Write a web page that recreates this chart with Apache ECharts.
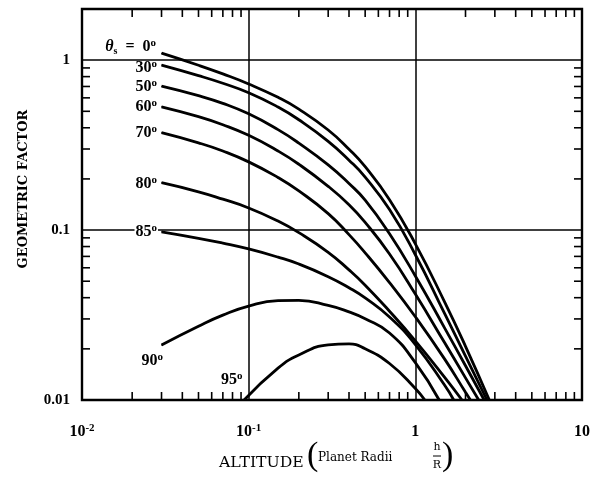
<!DOCTYPE html>
<html><head><meta charset="utf-8">
<script src="https://cdn.jsdelivr.net/npm/echarts@6/dist/echarts.min.js"></script>
<style>html,body{margin:0;padding:0;background:#fff}#c{width:602px;height:480px}</style>
</head><body><div id="c"></div>
<script>
// ---- axis ticks ----
const xTickValues = [0.01, 0.1, 1, 10];
const xTickBase = ['10', '10', '1', '10'];
const xTickExp = ['-2', '-1', '', ''];
const yTickValues = [0.01, 0.1, 1];
const yTickLabels = ['0.01', '0.1', '1'];
const minorMultipliers = [2, 3, 4, 5, 6, 7, 8, 9];
const xDecades = [0.01, 0.1, 1];
const yDecades = [0.01, 0.1, 1];
const xMin = 0.01, xMax = 10, yMin = 0.01, yMax = 2;

// ---- curves: geometric factor vs altitude (h/R) for each zenith angle ----
const curveLabels = ['0', '30', '50', '60', '70', '80', '85', '90', '95'];
const theta0  = [[0.03,1.099],[0.05,0.933],[0.07,0.830],[0.1,0.724],[0.15,0.604],[0.2,0.515],[0.3,0.388],[0.4,0.299],[0.5,0.236],[0.7,0.151],[1.0,0.083],[1.5,0.0377],[2.0,0.0207],[2.78,0.01]];
const theta30 = [[0.03,0.935],[0.05,0.811],[0.07,0.731],[0.1,0.643],[0.15,0.530],[0.2,0.446],[0.3,0.333],[0.4,0.258],[0.5,0.205],[0.7,0.132],[1.0,0.0716],[1.5,0.0322],[2.0,0.0181],[2.69,0.01]];
const theta50 = [[0.03,0.703],[0.05,0.618],[0.07,0.557],[0.1,0.483],[0.15,0.390],[0.2,0.325],[0.3,0.242],[0.4,0.188],[0.5,0.150],[0.7,0.0951],[1.0,0.0537],[1.5,0.0265],[2.0,0.0159],[2.59,0.01]];
const theta60 = [[0.03,0.531],[0.05,0.465],[0.07,0.417],[0.1,0.361],[0.15,0.292],[0.2,0.244],[0.3,0.181],[0.4,0.141],[0.5,0.111],[0.7,0.0723],[1.0,0.0420],[1.5,0.0217],[2.0,0.0135],[2.40,0.01]];
const theta70 = [[0.03,0.374],[0.05,0.326],[0.07,0.292],[0.1,0.252],[0.15,0.204],[0.2,0.170],[0.3,0.125],[0.4,0.0940],[0.5,0.0735],[0.7,0.0491],[1.0,0.0309],[1.5,0.0174],[2.0,0.0111],[2.14,0.01]];
const theta80 = [[0.03,0.190],[0.05,0.168],[0.07,0.152],[0.1,0.135],[0.15,0.113],[0.2,0.0966],[0.3,0.0740],[0.4,0.0583],[0.5,0.0474],[0.7,0.0333],[1.0,0.0223],[1.5,0.0136],[1.905,0.01]];
const theta85 = [[0.03,0.0977],[0.05,0.0895],[0.07,0.0838],[0.1,0.0774],[0.15,0.0693],[0.2,0.0631],[0.3,0.0532],[0.4,0.0458],[0.5,0.0399],[0.7,0.0308],[1.0,0.0212],[1.5,0.0122],[1.70,0.01]];
const theta90 = [[0.03,0.0211],[0.05,0.0272],[0.07,0.0316],[0.1,0.0357],[0.15,0.0384],[0.2,0.0386],[0.3,0.0360],[0.4,0.0330],[0.5,0.0301],[0.7,0.0248],[1.0,0.0166],[1.39,0.01]];
const theta95 = [[0.0939,0.01],[0.15,0.0154],[0.2,0.0184],[0.3,0.0211],[0.4,0.0214],[0.5,0.0200],[0.7,0.0164],[1.0,0.0117],[1.14,0.01]];

const curves = [theta0, theta30, theta50, theta60, theta70, theta80, theta85, theta90, theta95];
const labelOffsets = [[-1,-6],[0,3],[0,1],[0,0],[0,0],[0,1],[0,0],[6,16],[3,-20]];

const SERIF = '"Liberation Serif", "DejaVu Serif", serif';
const WIDE = '"DejaVu Serif", "Liberation Serif", serif';
const richLabel = {
  n: {fontFamily: SERIF, fontWeight: 'bold', fontSize: 16, color: '#000', lineHeight: 19},
  i: {fontFamily: SERIF, fontStyle: 'italic', fontWeight: 'bold', fontSize: 16, color: '#000', lineHeight: 19},
  sub: {fontFamily: SERIF, fontWeight: 'bold', fontSize: 10, color: '#000', verticalAlign: 'bottom', lineHeight: 12},
  sup: {fontFamily: SERIF, fontWeight: 'bold', fontSize: 11, color: '#000', verticalAlign: 'top', lineHeight: 11}
};

const lineSeries = curves.map((d, i) => ({
  type: 'line',
  name: curveLabels[i],
  smooth: 0.5,
  symbol: 'none',
  animation: false,
  silent: true,
  z: 3,
  lineStyle: {color: '#000', width: 2.8},
  data: d.map((p, j) => j === 0 ? {
    value: p,
    symbol: 'circle', symbolSize: 1,
    itemStyle: {color: '#000'},
    label: {
      show: true, position: 'left', distance: 3, offset: labelOffsets[i],
      backgroundColor: i === 6 ? '#fff' : 'transparent',
      padding: [0, 1, 0, 1],
      formatter: i === 0 ? '{i|θ}{sub|s}{n|  =  ' + curveLabels[i] + '}{sup|o}' : '{n|' + curveLabels[i] + '}{sup|o}',
      rich: richLabel
    }
  } : p)
}));

const xMinor = [];
xDecades.forEach(d => minorMultipliers.forEach(m => { const v = m * d; if (v < xMax) xMinor.push(v); }));
const yMinor = [];
yDecades.forEach(d => minorMultipliers.forEach(m => { const v = m * d; if (v < yMax) yMinor.push(v); }));
const TICK = 8;

const xTickSeries = {
  type: 'custom', coordinateSystem: 'cartesian2d', silent: true, animation: false, z: 4,
  data: xMinor.map(v => [v, yMin]),
  renderItem: (params, api) => {
    const x = api.value(0);
    const b = api.coord([x, yMin]);
    const t = api.coord([x, yMax]);
    const st = {stroke: '#000', lineWidth: 1.6};
    return {type: 'group', children: [
      {type: 'line', shape: {x1: b[0], y1: b[1], x2: b[0], y2: b[1] - TICK}, style: st},
      {type: 'line', shape: {x1: t[0], y1: t[1], x2: t[0], y2: t[1] + TICK}, style: st}
    ]};
  }
};
const yTickSeries = {
  type: 'custom', coordinateSystem: 'cartesian2d', silent: true, animation: false, z: 4,
  data: yMinor.map(v => [xMin, v]),
  renderItem: (params, api) => {
    const y = api.value(1);
    const l = api.coord([xMin, y]);
    const r = api.coord([xMax, y]);
    const st = {stroke: '#000', lineWidth: 1.6};
    return {type: 'group', children: [
      {type: 'line', shape: {x1: l[0], y1: l[1], x2: l[0] + TICK, y2: l[1]}, style: st},
      {type: 'line', shape: {x1: r[0], y1: r[1], x2: r[0] - TICK, y2: r[1]}, style: st}
    ]};
  }
};

function findTick(list, v) {
  return list.findIndex(t => Math.abs(Math.log10(t) - Math.log10(v)) < 1e-6);
}

const chart = echarts.init(document.getElementById('c'), null, {renderer: 'canvas'});
chart.setOption({
  animation: false,
  backgroundColor: '#fff',
  grid: {left: 82, right: 20, top: 9, bottom: 80, show: true, borderColor: '#000', borderWidth: 2.4, backgroundColor: 'transparent'},
  xAxis: {
    type: 'log', logBase: 10, min: xMin, max: xMax,
    axisLine: {show: false}, axisTick: {show: false}, minorTick: {show: false},
    splitLine: {show: true, lineStyle: {color: '#000', width: 1.5}},
    axisLabel: {
      margin: 23, showMinLabel: true, showMaxLabel: true,
      formatter: v => {
        const k = findTick(xTickValues, v);
        if (k < 0) return '';
        return xTickExp[k] ? '{b|' + xTickBase[k] + '}{s|' + xTickExp[k] + '}' : '{b|' + xTickBase[k] + '}';
      },
      rich: {
        b: {fontFamily: SERIF, fontWeight: 'bold', fontSize: 16, color: '#000', lineHeight: 18},
        s: {fontFamily: SERIF, fontWeight: 'bold', fontSize: 11, color: '#000', verticalAlign: 'top', lineHeight: 11}
      }
    }
  },
  yAxis: {
    type: 'log', logBase: 10, min: yMin, max: yMax,
    axisLine: {show: false}, axisTick: {show: false}, minorTick: {show: false},
    splitLine: {show: true, lineStyle: {color: '#000', width: 1.5}},
    axisLabel: {
      margin: 12, showMinLabel: true, showMaxLabel: false,
      fontFamily: SERIF, fontWeight: 'bold', fontSize: 15, color: '#000',
      formatter: v => { const k = findTick(yTickValues, v); return k < 0 ? '' : yTickLabels[k]; }
    }
  },
  graphic: [
    {type: 'text', x: 24, y: 189, rotation: Math.PI / 2, silent: true,
     style: {text: 'GEOMETRIC FACTOR', fontFamily: WIDE, fontWeight: 'bold', fontSize: 13, fill: '#000', align: 'center', verticalAlign: 'middle'}},
    {type: 'text', x: 219, y: 463, scaleX: 1.12, silent: true,
     style: {text: 'ALTITUDE', fontFamily: WIDE, fontSize: 14, fill: '#000', align: 'left', verticalAlign: 'middle'}},
    {type: 'text', x: 307, y: 456, silent: true,
     style: {text: '(', fontFamily: SERIF, fontSize: 34, fill: '#000', align: 'left', verticalAlign: 'middle'}},
    {type: 'text', x: 318, y: 458, silent: true,
     style: {text: 'Planet Radii', fontFamily: WIDE, fontSize: 12, fill: '#000', align: 'left', verticalAlign: 'middle'}},
    {type: 'text', x: 437, y: 447, silent: true,
     style: {text: 'h', fontFamily: WIDE, fontSize: 11, fill: '#000', align: 'center', verticalAlign: 'middle'}},
    {type: 'line', silent: true, shape: {x1: 433, y1: 456, x2: 441, y2: 456}, style: {stroke: '#000', lineWidth: 1}},
    {type: 'text', x: 437, y: 465, silent: true,
     style: {text: 'R', fontFamily: WIDE, fontSize: 11, fill: '#000', align: 'center', verticalAlign: 'middle'}},
    {type: 'text', x: 442, y: 456, silent: true,
     style: {text: ')', fontFamily: SERIF, fontSize: 34, fill: '#000', align: 'left', verticalAlign: 'middle'}}
  ],
  series: [...lineSeries, xTickSeries, yTickSeries]
});
</script>
</body></html>
